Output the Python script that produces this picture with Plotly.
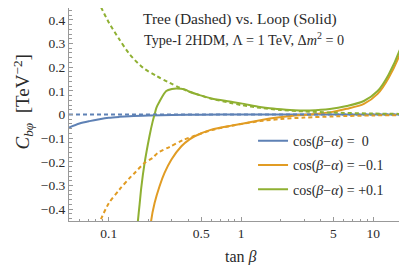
import plotly.graph_objects as go

# ---- data ----
blue_loop_x = [0.05, 0.06, 0.0714, 0.085, 0.1, 0.12, 0.144, 0.2, 0.3, 0.5, 1, 2, 5, 10, 20]
blue_loop_y = [-0.055, -0.038, -0.028, -0.020, -0.014, -0.010, -0.007, -0.004, -0.002, -0.001, 0, 0, 0, 0, 0]

blue_tree_x = [0.05, 20]
blue_tree_y = [0, 0]

orange_loop_x = [0.205, 0.209, 0.222, 0.242, 0.264, 0.297, 0.354, 0.408, 0.446, 0.597, 0.845, 1.0,
                 1.65, 2.2, 3.3, 4.7, 6.3, 8.5, 10.8, 13.1, 16.8, 19.6, 20]
orange_loop_y = [-0.52, -0.45, -0.374, -0.303, -0.247, -0.191, -0.134, -0.105, -0.092, -0.064, -0.047, -0.040,
                 -0.017, -0.008, 0.0, 0.009, 0.024, 0.045, 0.087, 0.155, 0.29, 0.43, 0.455]

orange_tree_x = [0.083, 0.0876, 0.1, 0.12, 0.144, 0.157, 0.186, 0.215, 0.235, 0.29, 0.364, 0.446, 0.6,
                 0.82, 1.0, 1.39, 2.0, 3.0, 5.0, 10, 20]
orange_tree_y = [-0.47, -0.44, -0.375, -0.318, -0.268, -0.247, -0.205, -0.183, -0.162, -0.136, -0.108, -0.09,
                 -0.066, -0.049, -0.040, -0.028, -0.019, -0.013, -0.008, -0.004, -0.002]

green_loop_x = [0.162, 0.166, 0.171, 0.176, 0.186, 0.203, 0.215, 0.222, 0.229, 0.242, 0.272, 0.30, 0.324,
                0.375, 0.408, 0.486, 0.6, 0.82, 1.0, 1.39, 1.65, 2.2, 2.8, 3.3, 4.7, 6.3, 8.5, 10.8, 13.1,
                16.8, 19.6, 20]
green_loop_y = [-0.52, -0.45, -0.38, -0.31, -0.21, -0.092, -0.028, 0.0, 0.028, 0.055, 0.099, 0.108, 0.110,
                0.106, 0.096, 0.082, 0.068, 0.055, 0.047, 0.032, 0.026, 0.020, 0.017, 0.017, 0.023, 0.036,
                0.057, 0.099, 0.169, 0.31, 0.45, 0.47]

green_tree_x = [0.083, 0.0876, 0.1, 0.12, 0.144, 0.181, 0.229, 0.288, 0.344, 0.408, 0.486, 0.6, 0.82, 1.0,
                1.39, 2.0, 3.0, 5.0, 10, 20]
green_tree_y = [0.48, 0.452, 0.389, 0.318, 0.254, 0.198, 0.163, 0.134, 0.113, 0.096, 0.082, 0.066, 0.050,
                0.040, 0.028, 0.019, 0.013, 0.008, 0.004, 0.002]

legend_names = ["cos(<i>β</i>−<i>α</i>) =  0", "cos(<i>β</i>−<i>α</i>) = −0.1", "cos(<i>β</i>−<i>α</i>) = +0.1"]
colors = ["#5E81B5", "#E19C24", "#8FB032"]

x_major = [0.1, 0.5, 1, 5, 10]
x_major_labels = ["0.1", "0.5", "1", "5", "10"]
x_minor = [0.06, 0.07, 0.08, 0.09, 0.2, 0.3, 0.4, 0.6, 0.7, 0.8, 0.9, 2, 3, 4, 6, 7, 8, 9, 20]
y_major = [-0.4, -0.3, -0.2, -0.1, 0, 0.1, 0.2, 0.3, 0.4]
y_major_labels = ["−0.4", "−0.3", "−0.2", "−0.1", "0", "0.1", "0.2", "0.3", "0.4"]

FONT = "Liberation Serif"
TXT = "#2a2a2a"

fig = go.Figure()

loops = [(blue_loop_x, blue_loop_y), (orange_loop_x, orange_loop_y), (green_loop_x, green_loop_y)]
trees = [(blue_tree_x, blue_tree_y), (orange_tree_x, orange_tree_y), (green_tree_x, green_tree_y)]

for i, (xs, ys) in enumerate(loops):
    fig.add_trace(go.Scatter(x=xs, y=ys, mode="lines", name=legend_names[i],
                             line=dict(color=colors[i], width=2, shape="spline", smoothing=0.8),
                             legendgroup=str(i), showlegend=True))
for i, (xs, ys) in enumerate(trees):
    fig.add_trace(go.Scatter(x=xs, y=ys, mode="lines", showlegend=False, legendgroup=str(i),
                             line=dict(color=colors[i], width=2, dash="4px,3px", shape="spline", smoothing=0.8)))

axis_common = dict(showline=True, linecolor="#999999", linewidth=1, ticks="inside", tickcolor="#999999",
                   showgrid=False, zeroline=False, mirror=False, automargin=False,
                   tickfont=dict(family=FONT, size=13.5, color=TXT))

fig.update_layout(
    width=407, height=265,
    margin=dict(l=61, r=2, t=0, b=52, autoexpand=False),
    paper_bgcolor="white", plot_bgcolor="white",
    font=dict(family=FONT, size=13, color=TXT),
    xaxis=dict(type="log", range=[-1.30103, 1.30103], tickmode="array", tickvals=x_major,
               ticktext=x_major_labels, ticklen=4,
               minor=dict(tickmode="array", tickvals=x_minor, ticklen=2.5, tickcolor="#999999", ticks="inside"),
               **axis_common),
    yaxis=dict(range=[-0.45, 0.45], tickmode="array", tickvals=y_major, ticktext=y_major_labels, ticklen=4,
               minor=dict(dtick=0.02, tick0=0, ticklen=2.5, tickcolor="#999999", ticks="inside"),
               **axis_common),
    legend=dict(x=0.535, y=0.45, xanchor="left", yanchor="top", bgcolor="rgba(0,0,0,0)",
                font=dict(family=FONT, size=14, color=TXT), tracegroupgap=3,
                traceorder="grouped"),
    showlegend=True,
)

fig.add_annotation(text="Tree (Dashed) vs. Loop (Solid)", xref="paper", yref="paper", x=0.4985, y=1,
                   yshift=-11, xanchor="center", yanchor="middle", showarrow=False,
                   font=dict(family=FONT, size=15.5, color=TXT))
fig.add_annotation(text="Type-I 2HDM, Λ = 1 TeV, Δ<i>m</i><sup>2</sup> = 0", xref="paper", yref="paper",
                   x=0.509, y=1, yshift=-31, xanchor="center", yanchor="middle", showarrow=False,
                   font=dict(family=FONT, size=14.2, color=TXT))
fig.add_annotation(text="<i>C</i><sub><i>bφ</i></sub>  [TeV<sup>−2</sup>]", xref="paper", yref="paper",
                   x=0, y=0.5, xshift=-46, yshift=12, textangle=-90, xanchor="center", yanchor="middle",
                   showarrow=False, font=dict(family=FONT, size=19, color=TXT))
fig.add_annotation(text="tan <i>β</i>", xref="paper", yref="paper", x=0.5, y=0, yshift=-36,
                   xanchor="center", yanchor="middle", showarrow=False,
                   font=dict(family=FONT, size=16, color=TXT))

fig.write_html("out.html")
